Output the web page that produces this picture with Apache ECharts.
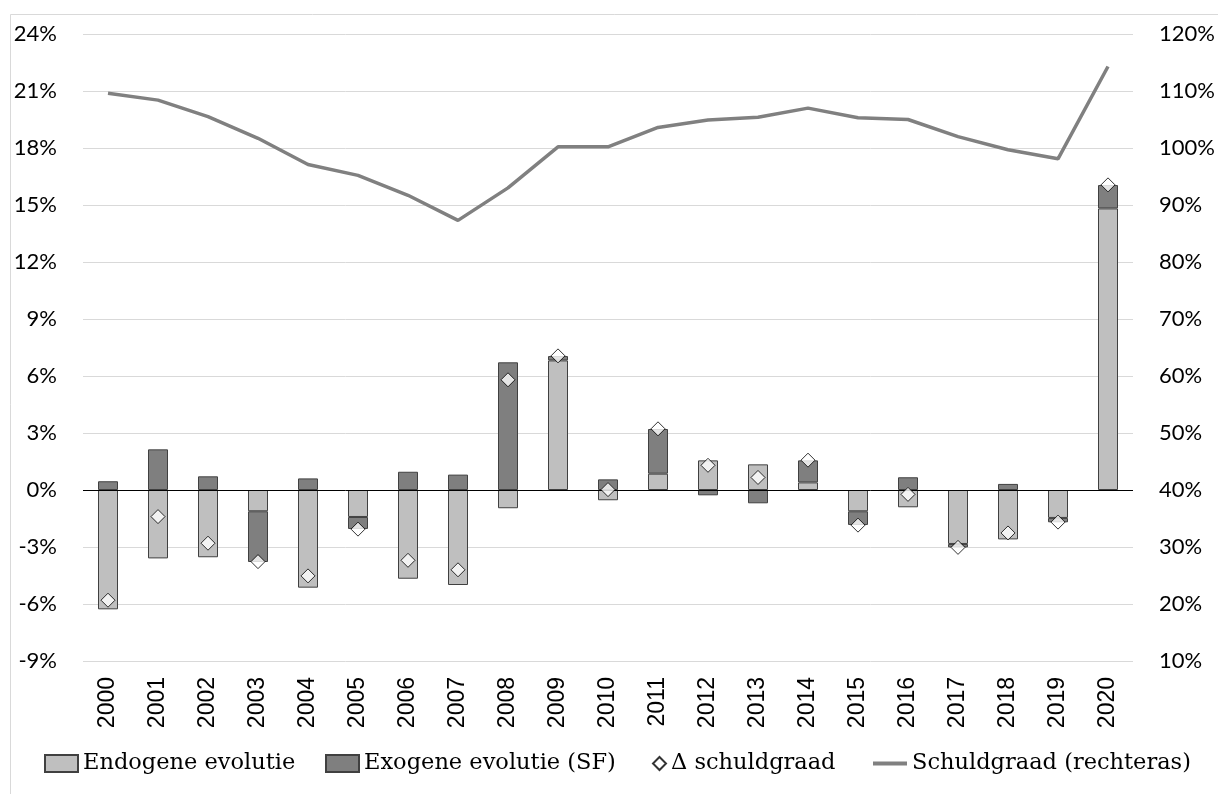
<!DOCTYPE html>
<html>
<head>
<meta charset="utf-8">
<script src="https://cdn.jsdelivr.net/npm/echarts@6/dist/echarts.min.js"></script>
<style>
  html, body { margin: 0; padding: 0; background: #ffffff; }
  #chart { width: 1218px; height: 794px; }
</style>
</head>
<body>
<div id="chart"></div>
<script>
// Jaren
const years = ['2000','2001','2002','2003','2004','2005','2006','2007','2008','2009','2010',
               '2011','2012','2013','2014','2015','2016','2017','2018','2019','2020'];

// Bijdragen aan de verandering van de schuldgraad (procentpunt bbp)
const endogeen = [-6.28, -3.60, -3.54, -1.12, -5.14, -1.42, -4.67, -5.00, -0.96, 6.82, -0.54,
                  0.86, 1.56, 1.35, 0.40, -1.12, -0.91, -2.84, -2.60, -1.47, 14.82];
const exogeen  = [0.46, 2.14, 0.72, -2.67, 0.61, -0.63, 0.96, 0.81, 6.72, 0.23, 0.56,
                  2.35, -0.28, -0.70, 1.16, -0.72, 0.67, -0.18, 0.32, -0.23, 1.23];
// Totale verandering van de schuldgraad
const deltaSchuld = [-5.80, -1.40, -2.80, -3.77, -4.52, -2.06, -3.70, -4.20, 5.80, 7.06, 0.02,
                     3.22, 1.30, 0.66, 1.57, -1.85, -0.23, -3.02, -2.26, -1.69, 16.06];
// Schuldgraad (% bbp, rechteras)
const schuldgraad = [109.6, 108.4, 105.5, 101.7, 97.1, 95.2, 91.7, 87.3, 93.0, 100.2, 100.2,
                     103.6, 104.9, 105.4, 107.0, 105.3, 105.0, 102.0, 99.7, 98.1, 114.3];

const leftTicks = { min: -9, max: 24, interval: 3 };
const rightTicks = { min: 10, max: 120, interval: 10 };

const names = ['Endogene evolutie', 'Exogene evolutie (SF)', '\u0394 schuldgraad', 'Schuldgraad (rechteras)'];

const axisFont = { fontFamily: 'Lato', fontSize: 22, color: '#000000' };
const legendText = { fontFamily: 'DejaVu Serif', fontSize: 22.5, color: '#000000' };

function legendFor(name, left, opts) {
  return Object.assign({
    data: [name],
    left: left,
    top: 752,
    padding: 0,
    itemGap: 0,
    textStyle: legendText,
    selectedMode: false
  }, opts);
}

const chart = echarts.init(document.getElementById('chart'), null, { renderer: 'canvas' });

chart.setOption({
  backgroundColor: '#ffffff',
  animation: false,
  graphic: [{
    type: 'rect',
    shape: { x: 10.5, y: 14.5, width: 1220, height: 800 },
    style: { fill: 'none', stroke: '#d9d9d9', lineWidth: 1 },
    silent: true
  }],
  grid: { left: 83, right: 85, top: 34, bottom: 133, containLabel: false },
  legend: [
    legendFor(names[0], 44, { itemWidth: 33, itemHeight: 17, icon: 'rect' }),
    legendFor(names[1], 325, { itemWidth: 33, itemHeight: 17, icon: 'rect' }),
    legendFor(names[2], 652, { itemWidth: 13, itemHeight: 13, icon: 'diamond' }),
    legendFor(names[3], 873, { itemWidth: 34, itemHeight: 4, icon: 'rect',
                               itemStyle: { color: '#808080', borderWidth: 0 } })
  ],
  xAxis: {
    type: 'category',
    data: years,
    axisLine: { show: false },
    axisTick: { show: false },
    axisLabel: {
      rotate: 90,
      margin: 16,
      fontFamily: 'Liberation Sans',
      fontSize: 23,
      color: '#000000'
    },
    splitLine: { show: false }
  },
  yAxis: [
    {
      type: 'value',
      min: leftTicks.min, max: leftTicks.max, interval: leftTicks.interval,
      position: 'left',
      axisLine: { show: false },
      axisTick: { show: false },
      axisLabel: Object.assign({ margin: 26, formatter: '{value}%' }, axisFont),
      splitLine: { lineStyle: { color: '#d9d9d9', width: 1 } }
    },
    {
      type: 'value',
      min: rightTicks.min, max: rightTicks.max, interval: rightTicks.interval,
      position: 'right',
      axisLine: { show: false },
      axisTick: { show: false },
      axisLabel: Object.assign({ margin: 26, formatter: '{value}%' }, axisFont),
      splitLine: { show: false }
    }
  ],
  series: [
    {
      name: names[0],
      type: 'bar',
      stack: 'bijdrage',
      barWidth: 20,
      data: endogeen,
      itemStyle: { color: '#bfbfbf', borderColor: '#404040', borderWidth: 1 },
      markLine: {
        silent: true,
        symbol: 'none',
        label: { show: false },
        lineStyle: { color: '#000000', width: 1, type: 'solid' },
        data: [{ yAxis: 0 }]
      },
      z: 2
    },
    {
      name: names[1],
      type: 'bar',
      stack: 'bijdrage',
      barWidth: 20,
      data: exogeen,
      itemStyle: { color: '#7f7f7f', borderColor: '#404040', borderWidth: 1 },
      z: 2
    },
    {
      name: names[2],
      type: 'scatter',
      data: deltaSchuld,
      symbol: 'diamond',
      symbolSize: 14,
      itemStyle: { color: '#ffffff', borderColor: '#000000', borderWidth: 1 },
      z: 5
    },
    {
      name: names[3],
      type: 'line',
      yAxisIndex: 1,
      data: schuldgraad,
      showSymbol: false,
      symbol: 'none',
      lineStyle: { color: '#808080', width: 3.5 },
      itemStyle: { color: '#808080' },
      z: 4
    }
  ]
});
</script>
</body>
</html>
